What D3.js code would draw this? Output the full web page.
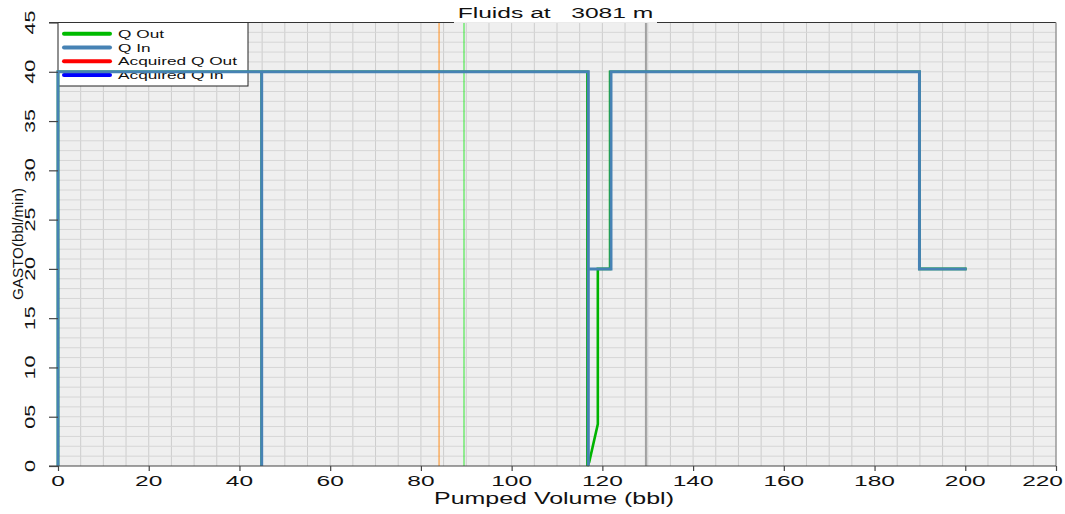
<!DOCTYPE html>
<html>
<head>
<meta charset="utf-8">
<script src="https://cdn.jsdelivr.net/npm/d3@7"></script>
<style>
  html, body { margin: 0; padding: 0; background: #ffffff; }
  svg { display: block; font-family: "Liberation Sans", Arial, sans-serif; }
  text { white-space: pre; }
</style>
</head>
<body>
<svg id="chart" width="1065" height="514"></svg>
<script>
// Pumped volume (bbl) and rate (bbl/min) for the inflow curve
const qInVolume = [0, 0, 44.9, 44.9, 44.9, 116.9, 116.9, 116.9, 121.9, 121.9, 189.9, 189.9, 200.3];
const qInRate   = [0, 40, 40, 0, 40, 40, 0, 20, 20, 40, 40, 20, 20];

// Returns curve (lags the inflow around the 117 bbl drop)
const qOutVolume = [0, 0, 44.9, 44.9, 44.9, 116.7, 116.7, 117.1, 119.0, 119.0, 121.7, 121.7, 189.9, 189.9, 200.3];
const qOutRate   = [0, 40, 40, 0, 40, 40, 0, 0.4, 4.25, 20, 20, 40, 40, 20, 20];

// Marker volumes (vertical reference lines)
const markerVolumes = [84.0, 89.5, 129.6];
const markerColors  = ["#ff8c1a", "#33e833", "#a0a0a0"];
const markerWidths  = [1, 1, 2];

// Axis ticks
const xTicks = [0, 20, 40, 60, 80, 100, 120, 140, 160, 180, 200, 220];
const yTicks = [0, 5, 10, 15, 20, 25, 30, 35, 40, 45];
const yTickLabels = ["0", "05", "10", "15", "20", "25", "30", "35", "40", "45"];

// Legend entries
const legendNames  = ["Q Out", "Q In", "Acquired Q Out", "Acquired Q In"];
const legendColors = ["#00bb00", "#4682b4", "#ff0000", "#0000ff"];

const svg = d3.select("#chart");
const W = 1065;
const plotLeft = 58, plotRight = 1056, plotTop = 22.5, plotBottom = 466;

const x = d3.scaleLinear().domain([0, 220]).range([plotLeft, plotRight]);
const y = d3.scaleLinear().domain([0, 45]).range([plotBottom, plotTop]);

// wide text helper: stretched along its reading direction
function wideText(g, str, px, py, size, sx, rot, anchor) {
  return g.append("text")
    .attr("transform", `translate(${px},${py}) rotate(${rot || 0}) scale(${sx},1)`)
    .attr("text-anchor", anchor || "middle")
    .attr("font-size", size)
    .attr("fill", "#111")
    .text(str);
}

// plot background
svg.append("rect")
  .attr("x", plotLeft).attr("y", plotTop)
  .attr("width", plotRight - plotLeft).attr("height", plotBottom - plotTop)
  .attr("fill", "#efefef");

// grid
const grid = svg.append("g");
grid.selectAll("line.v")
  .data(d3.range(5, 220, 5))
  .join("line")
  .attr("class", "v")
  .attr("x1", d => x(d)).attr("x2", d => x(d))
  .attr("y1", plotTop).attr("y2", plotBottom)
  .attr("stroke", "#cdcdcd").attr("stroke-width", 1);
grid.selectAll("line.h")
  .data(d3.range(1, 45, 1))
  .join("line")
  .attr("class", "h")
  .attr("x1", plotLeft).attr("x2", plotRight)
  .attr("y1", d => y(d)).attr("y2", d => y(d))
  .attr("stroke", "#d6d6d6").attr("stroke-width", 1);

// marker lines
svg.append("g").selectAll("line")
  .data(markerVolumes)
  .join("line")
  .attr("x1", d => x(d)).attr("x2", d => x(d))
  .attr("y1", plotTop).attr("y2", plotBottom)
  .attr("stroke", (d, i) => markerColors[i])
  .attr("stroke-width", (d, i) => markerWidths[i]);

// legend
const legend = svg.append("g");
legend.append("rect")
  .attr("x", plotLeft).attr("y", plotTop)
  .attr("width", 190).attr("height", 63.5)
  .attr("fill", "#ffffff").attr("stroke", "#222").attr("stroke-width", 1);
legendNames.forEach((name, i) => {
  const ly = 33.7 + i * 13.8;
  legend.append("line")
    .attr("x1", 64).attr("x2", 110)
    .attr("y1", ly).attr("y2", ly)
    .attr("stroke", legendColors[i]).attr("stroke-width", 4)
    .attr("stroke-linecap", "round");
  wideText(legend, name, 118, ly + 4, 11, 1.57, 0, "start");
});

// series
const line = d3.line().x(d => x(d[0])).y(d => y(d[1]));
svg.append("path")
  .datum(qOutVolume.map((v, i) => [v, qOutRate[i]]))
  .attr("d", line)
  .attr("fill", "none").attr("stroke", "#00b400").attr("stroke-width", 2.6)
  .attr("stroke-linejoin", "miter");
svg.append("path")
  .datum(qInVolume.map((v, i) => [v, qInRate[i]]))
  .attr("d", line)
  .attr("fill", "none").attr("stroke", "#4682b4").attr("stroke-width", 3)
  .attr("stroke-linejoin", "miter");

// frame
svg.append("line").attr("x1", plotLeft - 9).attr("x2", plotRight)
  .attr("y1", plotTop).attr("y2", plotTop).attr("stroke", "#333").attr("stroke-width", 1.2);
svg.append("line").attr("x1", plotRight).attr("x2", plotRight)
  .attr("y1", plotTop).attr("y2", plotBottom).attr("stroke", "#999").attr("stroke-width", 1.5);

// x axis
const xAxis = svg.append("g")
  .attr("transform", `translate(0,${plotBottom})`)
  .call(d3.axisBottom(x).tickValues(xTicks).tickSize(5).tickSizeOuter(0).tickFormat(""));
xAxis.select(".domain").attr("stroke", "#444").attr("stroke-width", 1.2)
  .attr("d", `M${plotLeft - 9},0H${plotRight}`);
xAxis.selectAll(".tick line").attr("stroke", "#444").attr("stroke-width", 1.2);
xTicks.forEach(t => {
  const lbl = wideText(svg, String(t), x(t), 486, 15.5, 1.58);
  // keep the last label inside the page
  const bb = lbl.node().getBBox();
  const halfW = bb.width * 1.58 / 2;
  if (x(t) + halfW > W - 2) {
    lbl.attr("transform", `translate(${W - 2 - halfW},486) scale(1.58,1)`);
  }
});

// y axis
const yAxis = svg.append("g")
  .attr("transform", `translate(${plotLeft},0)`)
  .call(d3.axisLeft(y).tickValues(yTicks).tickSize(9).tickSizeOuter(0).tickFormat(""));
yAxis.select(".domain").remove();
yAxis.selectAll(".tick line").attr("stroke", "#444").attr("stroke-width", 1.2);
yTicks.forEach((t, i) => wideText(svg, yTickLabels[i], 35, y(t), 14, 1.54, -90));

// axis titles
wideText(svg, "Pumped Volume (bbl)", (plotLeft + plotRight) / 2 - 3, 504, 16, 1.56);
svg.append("text")
  .attr("transform", "translate(22.5,244) rotate(-90)")
  .attr("text-anchor", "middle")
  .attr("font-size", 14.5)
  .attr("fill", "#111")
  .attr("textLength", 112)
  .attr("lengthAdjust", "spacingAndGlyphs")
  .text("GASTO(bbl/min)");

// title
svg.append("rect")
  .attr("x", 454).attr("y", 0).attr("width", 203).attr("height", plotTop + 0.4)
  .attr("fill", "#ffffff");
wideText(svg, "Fluids at   3081 m", 555.5, 18.3, 15.4, 1.6);
</script>
</body>
</html>
